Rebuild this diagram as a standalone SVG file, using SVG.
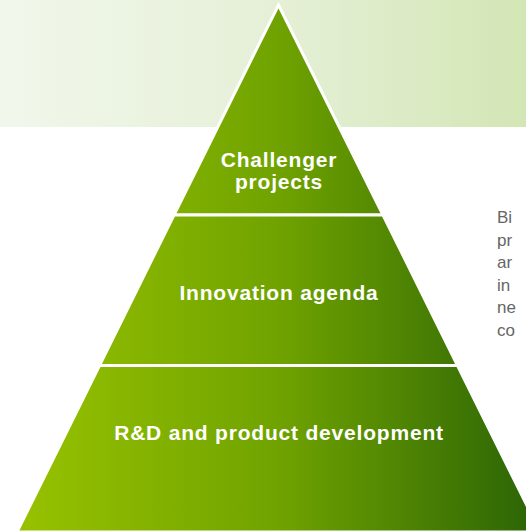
<svg xmlns="http://www.w3.org/2000/svg" width="526" height="531" viewBox="0 0 526 531">
  <defs>
    <linearGradient id="bg" x1="0" y1="0" x2="526" y2="0" gradientUnits="userSpaceOnUse">
      <stop offset="0" stop-color="#f1f7eb"/>
      <stop offset="0.5" stop-color="#e6f0d8"/>
      <stop offset="1" stop-color="#d3e6b5"/>
    </linearGradient>
    <linearGradient id="g" x1="15" y1="0" x2="540" y2="0" gradientUnits="userSpaceOnUse">
      <stop offset="0" stop-color="#98c200"/>
      <stop offset="0.5" stop-color="#70a300"/>
      <stop offset="1" stop-color="#2a6306"/>
    </linearGradient>
    <style>
      .seg { fill: url(#g); stroke: #ffffff; stroke-width: 3; stroke-linejoin: miter; }
      .lbl { font-family: "Liberation Sans", Arial, sans-serif; font-weight: bold; font-size: 21px; fill: #ffffff; text-anchor: middle; letter-spacing: 0.8px; }
      .side { font-family: "Liberation Sans", Arial, sans-serif; font-size: 17px; fill: #666666; }
    </style>
  </defs>
  <rect x="0" y="0" width="526" height="127" fill="url(#bg)"/>
  <g id="top">
    <polygon class="seg" points="278.5,5 383,215 174,215"/>
    <text class="lbl" x="279" y="167">Challenger</text>
    <text class="lbl" x="279" y="189">projects</text>
  </g>
  <g id="middle">
    <polygon class="seg" points="174,215 383,215 457.5,365.5 99.5,365.5"/>
    <text class="lbl" x="279" y="300">Innovation agenda</text>
  </g>
  <g id="bottom">
    <polygon class="seg" points="99.5,365.5 457.5,365.5 540,532 17,532"/>
    <text class="lbl" x="279" y="440">R&amp;D and product development</text>
  </g>
  <g id="sidetext">
    <text class="side" x="497" y="223">Bi</text>
    <text class="side" x="497" y="246">pr</text>
    <text class="side" x="497" y="268">ar</text>
    <text class="side" x="497" y="291">in</text>
    <text class="side" x="497" y="313">ne</text>
    <text class="side" x="497" y="336">co</text>
  </g>
</svg>
